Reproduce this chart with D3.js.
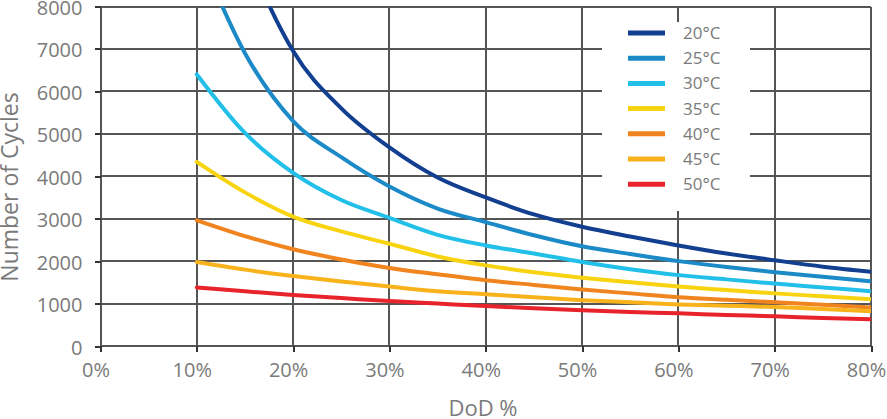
<!DOCTYPE html>
<html>
<head>
<meta charset="utf-8">
<script src="https://cdn.jsdelivr.net/npm/d3@7"></script>
<style>
    body { margin: 0; background: #fff; }
    svg { display: block; }
</style>
</head>
<body>
<script>
// Depth of discharge (%) on the x axis, one point every 5%
var dod = [10, 15, 20, 25, 30, 35, 40, 45, 50, 55, 60, 65, 70, 75, 80];

// Number of cycles for each temperature
var cycles20 = [13000, 9400, 6950, 5600, 4680, 3970, 3500, 3100, 2810,
                2580, 2370, 2180, 2020, 1870, 1750];
var cycles25 = [9400, 6900, 5300, 4450, 3760, 3240, 2920, 2610, 2350,
                2170, 2000, 1860, 1740, 1630, 1525];
var cycles30 = [6400, 5020, 4080, 3440, 3020, 2620, 2370, 2180, 1980,
                1810, 1670, 1570, 1470, 1380, 1290];
var cycles35 = [4340, 3620, 3050, 2700, 2410, 2110, 1900, 1740, 1610,
                1500, 1400, 1320, 1240, 1170, 1100];
var cycles40 = [2960, 2590, 2280, 2040, 1840, 1690, 1550, 1440, 1330,
                1240, 1150, 1090, 1030, 970, 910];
var cycles45 = [1980, 1800, 1650, 1520, 1400, 1290, 1220, 1150, 1080,
                1030, 980, 950, 920, 870, 820];
var cycles50 = [1380, 1290, 1200, 1130, 1060, 1000, 940, 890, 840,
                800, 770, 730, 700, 660, 630];

var seriesNames = ["20\u00b0C", "25\u00b0C", "30\u00b0C", "35\u00b0C",
                   "40\u00b0C", "45\u00b0C", "50\u00b0C"];
var seriesValues = [cycles20, cycles25, cycles30, cycles35,
                    cycles40, cycles45, cycles50];

// tick values for both axes
var xTicks = [0, 10, 20, 30, 40, 50, 60, 70, 80];
var yTicks = [0, 1000, 2000, 3000, 4000, 5000, 6000, 7000, 8000];

// line colours, one per temperature
var colors = ["#123f8f", "#1b8ac6", "#22bfe9", "#f8d30f",
              "#f0841f", "#f7b21c", "#e8232b"];

// margins around the plot area
var margin = {top: 6.5, right: 16, bottom: 73, left: 100.5},
    width = 887 - margin.left - margin.right,
    height = 419 - margin.top - margin.bottom;

var svg = d3.select("body").append("svg")
    .attr("width", 887)
    .attr("height", 419);

var g = svg.append("g")
    .attr("transform", "translate(" + margin.left + "," + margin.top + ")");

var xScale = d3.scaleLinear().domain([0, 80]).range([0, width]);
var yScale = d3.scaleLinear().domain([0, 8000]).range([height, 0]);

var gridColor = "#555";
var labelColor = "#7a7a7a";

// grid lines (also serve as the frame of the plot)
g.selectAll(".vgrid")
    .data(xTicks)
    .enter()
    .append("line")
    .attr("class", "vgrid")
    .attr("x1", function(d) { return xScale(d); })
    .attr("x2", function(d) { return xScale(d); })
    .attr("y1", 0)
    .attr("y2", height)
    .attr("stroke", gridColor)
    .attr("stroke-width", 2)
    .attr("shape-rendering", "crispEdges");

g.selectAll(".hgrid")
    .data(yTicks)
    .enter()
    .append("line")
    .attr("class", "hgrid")
    .attr("x1", 0)
    .attr("x2", width)
    .attr("y1", function(d) { return yScale(d); })
    .attr("y2", function(d) { return yScale(d); })
    .attr("stroke", gridColor)
    .attr("stroke-width", 2)
    .attr("shape-rendering", "crispEdges");

// axes: only the small outside ticks and labels
var xAxis = d3.axisBottom(xScale)
    .tickValues(xTicks)
    .tickSize(6)
    .tickPadding(11)
    .tickFormat(function(d) { return d + "%"; });

var yAxis = d3.axisLeft(yScale)
    .tickValues(yTicks)
    .tickSize(6)
    .tickPadding(12)
    .tickFormat(d3.format("d"));

function styleAxis(sel) {
    sel.select(".domain").remove();
    sel.selectAll(".tick line")
        .attr("stroke", "#333")
        .attr("stroke-width", 2)
        .attr("shape-rendering", "crispEdges");
    sel.selectAll(".tick text")
        .attr("fill", labelColor)
        .attr("font-family", "'Open Sans', sans-serif")
        .attr("font-size", "20px");
}

g.append("g")
    .attr("class", "x axis")
    .attr("transform", "translate(0," + height + ")")
    .call(xAxis)
    .call(styleAxis)
    .selectAll(".tick text")
    .attr("dx", "-5");

g.append("g")
    .attr("class", "y axis")
    .call(yAxis)
    .call(styleAxis)
    .selectAll(".tick text")
    .attr("dy", "0.4em");

// clip the curves at the top of the plot
g.append("clipPath")
    .attr("id", "plotClip")
    .append("rect")
    .attr("x", 0)
    .attr("y", 0)
    .attr("width", width)
    .attr("height", height);

var line = d3.line()
    .x(function(d, i) { return xScale(dod[i]); })
    .y(function(d) { return yScale(d); })
    .curve(d3.curveMonotoneX);

g.append("g")
    .attr("clip-path", "url(#plotClip)")
    .selectAll("path")
    .data(seriesValues)
    .enter()
    .append("path")
    .attr("d", function(d) { return line(d); })
    .attr("fill", "none")
    .attr("stroke", function(d, i) { return colors[i]; })
    .attr("stroke-width", 4)
    .attr("stroke-linejoin", "round")
    .attr("stroke-linecap", "round");

// legend on a white box covering the grid
var legend = svg.append("g")
    .attr("transform", "translate(602,22)");

legend.append("rect")
    .attr("width", 148)
    .attr("height", 189)
    .attr("fill", "#fff");

var rows = legend.selectAll(".row")
    .data(seriesNames)
    .enter()
    .append("g")
    .attr("class", "row")
    .attr("transform", function(d, i) {
        return "translate(0," + (11 + i * 25.2) + ")";
    });

rows.append("line")
    .attr("x1", 26)
    .attr("x2", 63)
    .attr("stroke", function(d, i) { return colors[i]; })
    .attr("stroke-width", 5);

rows.append("text")
    .attr("x", 81)
    .attr("dy", "0.35em")
    .attr("fill", labelColor)
    .attr("font-family", "'Open Sans', sans-serif")
    .attr("font-size", "17px")
    .text(function(d) { return d; });

// axis titles, pushed against the edges of the picture as in the original
svg.append("text")
    .attr("transform", "rotate(-90)")
    .attr("x", -187)
    .attr("y", 18)
    .attr("text-anchor", "middle")
    .attr("fill", labelColor)
    .attr("font-family", "'Open Sans', sans-serif")
    .attr("font-size", "23px")
    .text("Number of Cycles");

svg.append("text")
    .attr("x", 483)
    .attr("y", 416)
    .attr("text-anchor", "middle")
    .attr("fill", labelColor)
    .attr("font-family", "'Open Sans', sans-serif")
    .attr("font-size", "22px")
    .text("DoD %");
</script>
</body>
</html>
